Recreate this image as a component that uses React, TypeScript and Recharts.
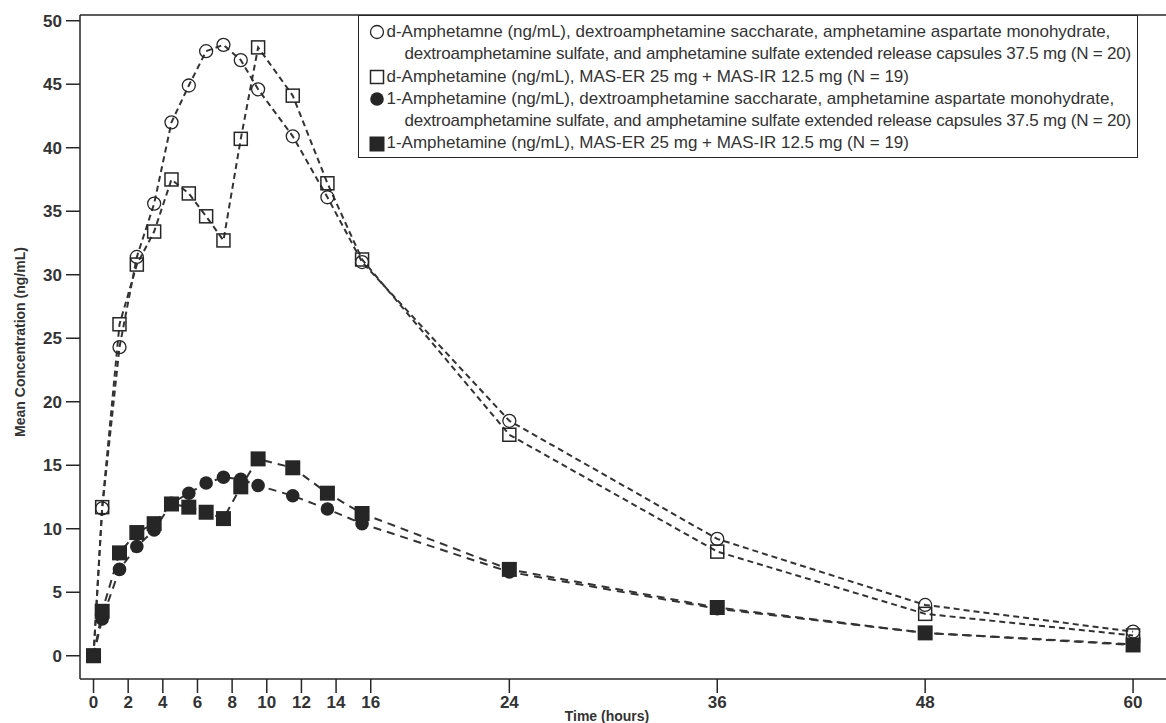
import React from 'react';
import { LineChart, Line, XAxis, YAxis, Legend, ReferenceLine } from 'recharts';

// sampling times (hours) and mean concentrations (ng/mL)
const hours = [0, 0.5, 1.5, 2.5, 3.5, 4.5, 5.5, 6.5, 7.5, 8.5, 9.5, 11.5, 13.5, 15.5, 24, 36, 48, 60];
const dAmphXR = [0, 11.6, 24.3, 31.4, 35.6, 42.0, 44.9, 47.6, 48.1, 46.9, 44.6, 40.9, 36.1, 31.0, 18.5, 9.2, 4.0, 1.9];
const dAmphMAS = [0, 11.7, 26.1, 30.8, 33.4, 37.5, 36.4, 34.6, 32.7, 40.7, 47.9, 44.1, 37.2, 31.2, 17.4, 8.2, 3.3, 1.6];
const lAmphXR = [0, 2.9, 6.8, 8.6, 9.9, 12.0, 12.8, 13.6, 14.05, 13.9, 13.4, 12.6, 11.55, 10.4, 6.6, 3.7, 1.8, 0.9];
const lAmphMAS = [0, 3.5, 8.1, 9.7, 10.4, 11.95, 11.7, 11.3, 10.8, 13.3, 15.5, 14.8, 12.8, 11.2, 6.8, 3.8, 1.8, 0.85];

const xTicks = [0, 2, 4, 6, 8, 10, 12, 14, 16, 24, 36, 48, 60];
const yTicks = [0, 5, 10, 15, 20, 25, 30, 35, 40, 45, 50];

const legendText: Record<string, string[]> = {
  dXR: [
    'd-Amphetamne (ng/mL), dextroamphetamine saccharate, amphetamine aspartate monohydrate,',
    'dextroamphetamine sulfate, and amphetamine sulfate extended release capsules 37.5 mg (N = 20)',
  ],
  dMAS: ['d-Amphetamine (ng/mL), MAS-ER 25 mg + MAS-IR 12.5 mg (N = 19)'],
  lXR: [
    '1-Amphetamine (ng/mL), dextroamphetamine saccharate, amphetamine aspartate monohydrate,',
    'dextroamphetamine sulfate, and amphetamine sulfate extended release capsules 37.5 mg (N = 20)',
  ],
  lMAS: ['1-Amphetamine (ng/mL), MAS-ER 25 mg + MAS-IR 12.5 mg (N = 19)'],
};

const data = hours.map((h, i) => ({
  hour: h,
  dXR: dAmphXR[i],
  dMAS: dAmphMAS[i],
  lXR: lAmphXR[i],
  lMAS: lAmphMAS[i],
}));

type Kind = 'openCircle' | 'openSquare' | 'filledCircle' | 'filledSquare';

const markerKind: Record<string, Kind> = {
  dXR: 'openCircle',
  dMAS: 'openSquare',
  lXR: 'filledCircle',
  lMAS: 'filledSquare',
};

const INK = '#262626';
const labelFont = '"Liberation Sans", Arial, Helvetica, sans-serif';

const Marker = ({ kind, cx, cy }: { kind: Kind; cx: number; cy: number }) => {
  switch (kind) {
    case 'openCircle':
      return <circle cx={cx} cy={cy} r={6.5} fill="none" stroke={INK} strokeWidth={1.3} />;
    case 'openSquare':
      return <rect x={cx - 6.5} y={cy - 6.5} width={13} height={13} fill="none" stroke={INK} strokeWidth={1.5} />;
    case 'filledCircle':
      return <circle cx={cx} cy={cy} r={6.8} fill={INK} />;
    default:
      return <rect x={cx - 7.5} y={cy - 7.5} width={15} height={15} fill={INK} />;
  }
};

const makeDot = (kind: Kind) => (props: any) => {
  const { cx, cy, index } = props;
  if (cx == null || cy == null) return <g key={index} />;
  return (
    <g key={index}>
      <Marker kind={kind} cx={cx} cy={cy} />
    </g>
  );
};

const LegendBox = ({ payload }: any) => {
  const order = ['dXR', 'dMAS', 'lXR', 'lMAS'];
  const keys = order.filter((k) => (payload || []).some((p: any) => p.dataKey === k));
  return (
    <div
      style={{
        width: 780,
        height: 143,
        boxSizing: 'border-box',
        border: `1.5px solid ${INK}`,
        background: '#fff',
        paddingTop: 5,
        fontFamily: labelFont,
        fontSize: 17,
        lineHeight: '22.3px',
        color: '#333',
        whiteSpace: 'nowrap',
      }}
    >
      {keys.map((k) =>
        legendText[k].map((line, i) => (
          <div
            key={k + i}
            style={{
              display: 'flex',
              alignItems: 'center',
              height: 22.3,
              paddingLeft: i === 0 ? 9.5 : 45.5,
              letterSpacing: i === 0 ? 0 : -0.2,
            }}
          >
            {i === 0 && (
              <svg width={16} height={16} style={{ marginRight: 2, flex: 'none' }}>
                <Marker kind={markerKind[k]} cx={8} cy={8} />
              </svg>
            )}
            <span>{line}</span>
          </div>
        ))
      )}
    </div>
  );
};

const tickStyle = { fontFamily: labelFont, fontSize: 17, fontWeight: 700, fill: '#333' };

const XLabel = () => (
  <text x={607} y={721} textAnchor="middle" fontFamily={labelFont} fontSize={14} fontWeight={700} fill="#333">
    Time (hours)
  </text>
);

const YLabel = () => (
  <text
    x={20}
    y={342}
    transform="rotate(-90, 20, 342)"
    textAnchor="middle"
    dominantBaseline="central"
    fontFamily={labelFont}
    fontSize={14}
    fontWeight={700}
    fill="#333"
  >
    Mean Concentration (ng/mL)
  </text>
);

const series = [
  { key: 'lXR', dash: '8 6' },
  { key: 'lMAS', dash: '8 6' },
  { key: 'dXR', dash: '6 4' },
  { key: 'dMAS', dash: '6 4' },
];

export default function App() {
  return (
    <div style={{ position: 'absolute', left: 0, top: 0, background: '#fff' }}>
      <LineChart width={1166} height={723} data={data} margin={{ top: 15, right: 0, bottom: 0, left: 0 }}>
        <XAxis
          dataKey="hour"
          type="number"
          domain={[-0.78, 61.9]}
          ticks={xTicks}
          allowDataOverflow
          height={44}
          tickSize={14}
          tickMargin={3}
          stroke={INK}
          strokeWidth={1.5}
          tick={tickStyle}
          label={<XLabel />}
        />
        <YAxis
          type="number"
          domain={[-1.83, 50.45]}
          ticks={yTicks}
          allowDataOverflow
          width={80}
          tickSize={14}
          tickMargin={4}
          stroke={INK}
          strokeWidth={1.5}
          tick={tickStyle}
          label={<YLabel />}
        />
        <ReferenceLine y={50.45} stroke={INK} strokeWidth={1.5} />
        <Legend
          layout="vertical"
          align="center"
          verticalAlign="middle"
          wrapperStyle={{ left: 358, top: 15, width: 780, height: 143 }}
          content={<LegendBox />}
        />
        {series.map((s) => (
          <Line
            key={s.key}
            dataKey={s.key}
            type="linear"
            stroke="#333"
            strokeWidth={2}
            strokeDasharray={s.dash}
            dot={makeDot(markerKind[s.key])}
            activeDot={false}
            isAnimationActive={false}
          />
        ))}
      </LineChart>
    </div>
  );
}
